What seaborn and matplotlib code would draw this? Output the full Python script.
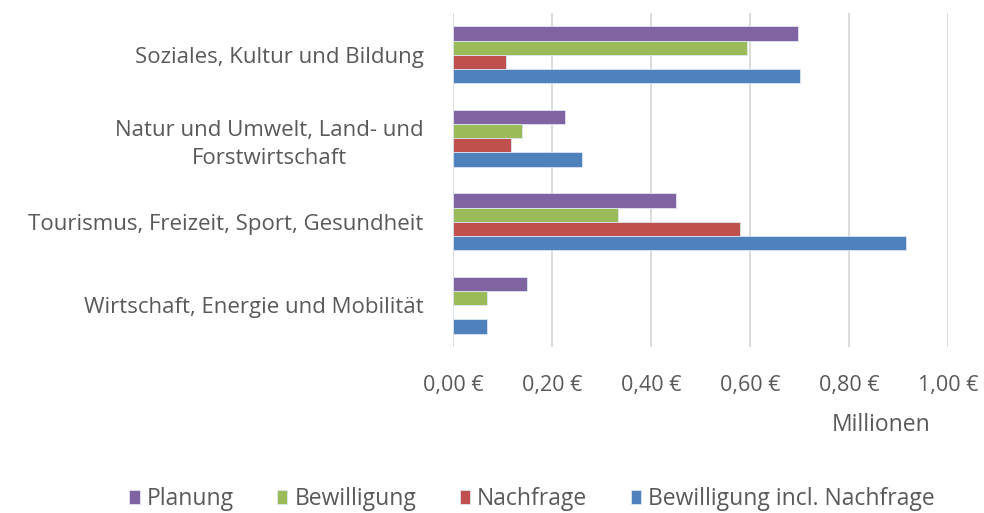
import pandas as pd
import seaborn as sns
import matplotlib.pyplot as plt
from matplotlib.ticker import FuncFormatter

# Werte in Millionen Euro
kategorien = ["Soziales, Kultur und Bildung",
              "Natur und Umwelt, Land- und\nForstwirtschaft",
              "Tourismus, Freizeit, Sport, Gesundheit",
              "Wirtschaft, Energie und Mobilität"]
serien = ["Planung", "Bewilligung", "Nachfrage", "Bewilligung incl. Nachfrage"]
planung = [0.696, 0.226, 0.450, 0.149]
bewilligung = [0.594, 0.140, 0.333, 0.068]
nachfrage = [0.108, 0.118, 0.580, 0.0]
bew_incl = [0.701, 0.261, 0.916, 0.069]
farben = ["#8064A2", "#9BBB59", "#C0504D", "#4F81BD"]

df = pd.DataFrame({"Kategorie": kategorien * 4,
                   "Serie": [s for s in serien for _ in kategorien],
                   "Wert": planung + bewilligung + nachfrage + bew_incl})

sns.set_style("white")
plt.rcParams['font.family'] = ['Open Sans', 'DejaVu Sans']
grau = "#595959"

fig = plt.figure(figsize=(9.84, 5.13), dpi=100)
ax = fig.add_axes([453 / 984, 1 - 347 / 513, 495 / 984, 334 / 513])
sns.barplot(data=df, y="Kategorie", x="Wert", hue="Serie", order=kategorien,
            hue_order=serien, palette=farben, saturation=1, orient="h", width=0.68,
            edgecolor="#DCE6F2", linewidth=0.6, ax=ax, legend=True)

ax.set_xlim(0, 1.0)
ax.set_xticks([0, 0.2, 0.4, 0.6, 0.8, 1.0])
ax.xaxis.set_major_formatter(FuncFormatter(lambda v, p: f"{v:.2f} €".replace(".", ",")))
ax.grid(axis="x", color="#D9D9D9", linewidth=1.3)
ax.set_axisbelow(True)
for s in ax.spines.values():
    s.set_visible(False)
ax.tick_params(axis="x", length=0, pad=20, labelsize=15.5, labelcolor=grau)
ax.tick_params(axis="y", length=0, pad=21, labelsize=16, labelcolor=grau)
for t in ax.get_yticklabels():
    t.set_multialignment("center")
    t.set_linespacing(1.45)
ax.set_xlabel("")
ax.set_ylabel("")

fig.text(881 / 984, 1 - 425 / 513, "Millionen", ha="center", va="center",
         fontsize=16.5, color=grau)

handles, labels = ax.get_legend_handles_labels()
ax.get_legend().remove()
fig.legend(handles, labels, loc="center", bbox_to_anchor=(532 / 984, 1 - 499 / 513),
           ncol=4, frameon=False, fontsize=16.5, labelcolor=grau,
           handlelength=0.45, handleheight=0.6, handletextpad=0.3, columnspacing=1.9)

fig.savefig("out.png", dpi=100)
